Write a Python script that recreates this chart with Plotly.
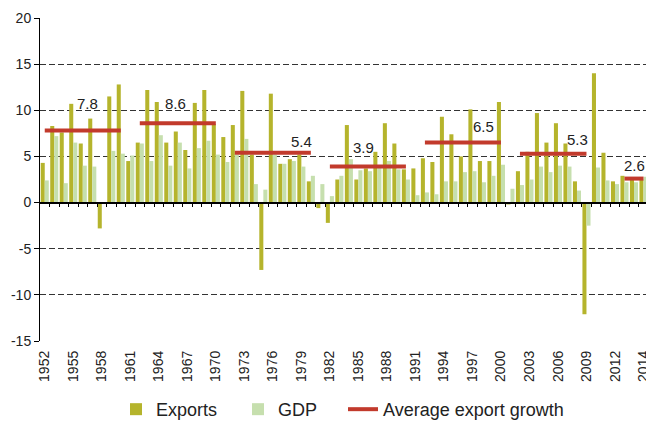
import plotly.graph_objects as go

# ---------------- data ----------------
years = list(range(1952, 2016))

exports = [4.3, 8.3, 7.6, 10.7, 6.4, 9.1, -2.8, 11.5, 12.8, 4.5,
           6.5, 12.2, 10.9, 6.5, 7.7, 5.7, 10.8, 12.2, 8.5, 7.1,
           8.4, 12.1, 5.2, -7.3, 11.8, 4.2, 4.7, 5.2, 2.3, -0.6,
           -2.2, 2.5, 8.4, 2.5, 3.7, 5.5, 8.6, 6.4, 3.6, 3.7,
           4.8, 4.4, 9.3, 7.4, 5.0, 10.1, 4.5, 4.5, 10.9, -0.2,
           3.4, 5.5, 9.7, 6.5, 8.6, 6.4, 2.3, -12.1, 14.0, 5.4,
           2.3, 2.9, 2.6, 2.5]

gdp = [2.4, 7.2, 2.1, 6.5, 4.0, 3.9, 0.0, 5.6, 5.3, 5.1,
       6.4, 4.5, 7.3, 4.0, 6.5, 3.7, 5.9, 6.7, 5.2, 4.4,
       5.2, 6.9, 2.0, 1.4, 5.2, 4.2, 4.5, 3.9, 2.9, 2.0,
       0.7, 2.9, 4.7, 3.5, 3.4, 4.0, 4.5, 3.6, 2.5, 0.8,
       1.1, 0.9, 2.3, 2.3, 3.3, 3.4, 2.2, 2.9, 4.1, 1.5,
       1.9, 2.5, 3.9, 3.3, 4.0, 3.9, 1.3, -2.5, 3.8, 2.4,
       2.0, 2.2, 2.2, 2.8]

avg_start = [1952, 1962, 1972, 1982, 1992, 2002, 2013]
avg_end = [1960, 1970, 1980, 1990, 2000, 2009, 2015]
avg_value = [7.8, 8.6, 5.4, 3.9, 6.5, 5.3, 2.6]

tick_labels = ["1952", "1955", "1958", "1961", "1964", "1967", "1970", "1973",
               "1976", "1979", "1982", "1985", "1988", "1991", "1994", "1997",
               "2000", "2003", "2006", "2009", "2012", "2014"]
y_ticks = [20, 15, 10, 5, 0, -5, -10, -15]
y_tick_labels = ["20", "15", "10", "5", "0", "-5", "-10", "-15"]

# ---------------- layout constants ----------------
label_x_shift = [0.45, -0.2, 3.0, -0.5, 2.2, 2.6, 0.1]   # relative to period midpoint
label_y_shift = [2.95, 2.15, 1.2, 2.05, 1.7, 1.55, 1.45]  # above the line

FONT = "Liberation Sans, Arial, sans-serif"
C_EXP = "#B5B42C"
C_GDP = "#C6DFAE"
C_AVG = "#C23A2C"

fig = go.Figure()
fig.add_trace(go.Bar(x=years, y=exports, name="Exports", legendwidth=77,
                     marker=dict(color=C_EXP, line=dict(width=0))))
fig.add_trace(go.Bar(x=years, y=gdp, name="GDP", legendwidth=60,
                     marker=dict(color=C_GDP, line=dict(width=0))))

ax, ay = [], []
for s, e, v in zip(avg_start, avg_end, avg_value):
    ax += [s, e, None]
    ay += [v, v, None]
fig.add_trace(go.Scatter(x=ax, y=ay, mode="lines", name="Average export growth",
                         line=dict(color=C_AVG, width=4), xaxis="x2",
                         hoverinfo="skip"))

for s, e, v, dx, dy in zip(avg_start, avg_end, avg_value, label_x_shift, label_y_shift):
    fig.add_annotation(x=(s + e) / 2 + dx, y=v + dy, text=f"{v}", showarrow=False,
                       font=dict(family=FONT, size=15, color="#222"))

xr = [1951.5, 2016.0]
# the page body adds an 8px margin, so the figure is 646x413 inside a 654x421 window
fig.update_layout(
    width=646, height=413,
    margin=dict(l=32, r=1, t=10, b=80, autoexpand=False),
    paper_bgcolor="white", plot_bgcolor="white",
    font=dict(family=FONT, color="#222"),
    barmode="group", bargap=0.15, bargroupgap=0.0,
    xaxis=dict(range=xr, tickmode="array", tickvals=years[::3], ticktext=tick_labels,
               tickangle=-90, ticks="", showgrid=False, showline=False, zeroline=False,
               automargin=False, ticklabelstandoff=6,
               tickfont=dict(size=14, color="#222")),
    xaxis2=dict(range=xr, overlaying="x", anchor="free", position=15 / 35,
                tickmode="array", tickvals=[y + 0.5 for y in years],
                ticks="outside", ticklen=4, tickcolor="black", tickwidth=1,
                showticklabels=False, showgrid=False, zeroline=False, automargin=False,
                showline=True, linecolor="black", linewidth=1.5),
    yaxis=dict(range=[-15, 20], tickmode="array", tickvals=y_ticks, ticktext=y_tick_labels,
               showgrid=True, gridcolor="#333", gridwidth=1, griddash="6px,3px",
               zeroline=False, showline=True, linecolor="black", linewidth=1,
               ticks="outside", ticklen=5, tickcolor="black", automargin=False,
               tickfont=dict(size=14, color="#222")),
    showlegend=True,
    legend=dict(orientation="h", x=0.124, xanchor="left", y=-0.212, yanchor="middle",
                font=dict(size=18, color="#222"), bgcolor="rgba(0,0,0,0)",
                traceorder="normal"),
)

fig.write_html("out.html")
